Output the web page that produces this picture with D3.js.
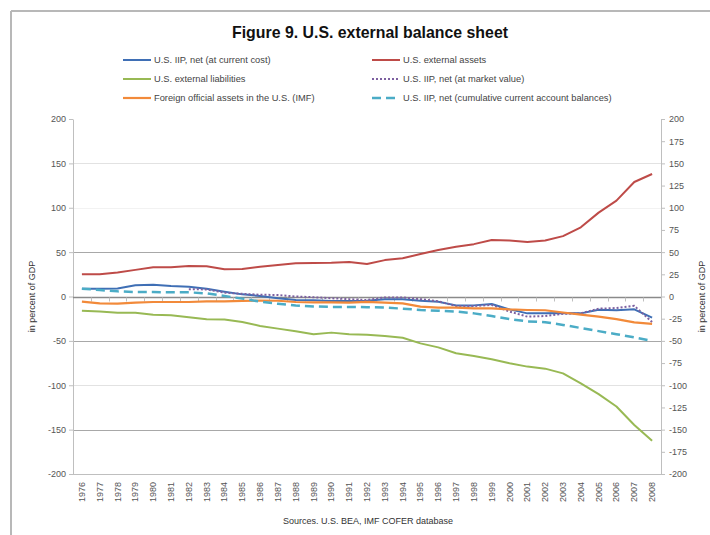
<!DOCTYPE html>
<html><head><meta charset="utf-8">
<script src="https://cdn.jsdelivr.net/npm/d3@7"></script>
<style>
body{margin:0;background:#fff}
svg{display:block}
text{font-family:"Liberation Sans",Arial,sans-serif}
</style>
</head><body>
<svg id="c" width="710" height="535"></svg>
<script>
// ---------- data ----------
const years = ["1976","1977","1978","1979","1980","1981","1982","1983","1984","1985","1986",
  "1987","1988","1989","1990","1991","1992","1993","1994","1995","1996","1997","1998","1999",
  "2000","2001","2002","2003","2004","2005","2006","2007","2008"];

const iipNetCurrentCost = [8.8,8.8,9,12.6,13.3,11.8,11,8.8,5.4,2.4,0.6,-2,-4,-4.3,-5,-5,-4.7,-3.2,
  -3.2,-4.7,-5.8,-10,-10,-8.5,-14.5,-19,-19,-18.5,-19,-15,-15.5,-14.5,-23.8];

const externalAssets = [25,25,27,30,33,33,34.4,34,30.6,31,33.6,35.5,37.4,37.7,38,39,36.6,41,43,
  47.9,52.4,56,59,63.7,63,61.4,63,68,78,94.5,108,129,138];

const externalLiabilities = [-16,-17,-18.2,-18.2,-20.5,-21.2,-23.5,-25.7,-26,-28.7,-33.2,-36.2,
  -39.2,-42.6,-40.7,-42.6,-43.2,-44.5,-46.4,-52.8,-57.3,-64,-67,-70.8,-75.3,-79,-81.3,-86.6,
  -97.8,-110,-124,-144.8,-162.5];

const iipNetMarketValue = [null,null,null,null,null,null,8.1,8,4.3,3,2,1.7,0,-0.8,-2,-3,-4,-1,-1,
  -3,-5.5,-10.7,-10.7,-9.5,-17,-22.7,-22,-19.5,-19,-13.7,-13,-10.5,-28.8];

const foreignOfficialAssets = [-5.8,-7.7,-8,-6.8,-6.2,-6.2,-6.2,-5.5,-5.5,-5,-4.7,-4.8,-6.2,-6.6,
  -6.6,-6.8,-6,-7,-7.7,-11.4,-12.5,-12.5,-13.3,-13.3,-14.5,-15.2,-15.5,-18,-20.5,-22.7,-25.5,
  -29.2,-30.8];

const iipNetCumulativeCA = [8.8,7.3,5.8,5,5,4.7,4.7,3.5,0.6,-2.4,-5.8,-8.2,-10.2,-11.2,-11.8,-11.8,
  -12,-12.5,-13.7,-15.2,-16,-17,-19,-22,-25.5,-28,-29,-32,-35.5,-39,-42.5,-46,-50];

const seriesNames = ["U.S. IIP, net (at current cost)","U.S. external assets",
  "U.S. external liabilities","U.S. IIP, net (at market value)",
  "Foreign official assets in the U.S. (IMF)","U.S. IIP, net (cumulative current account balances)"];

const leftTicks = [-200,-150,-100,-50,0,50,100,150,200];
const rightTicks = [-200,-175,-150,-125,-100,-75,-50,-25,0,25,50,75,100,125,150,175,200];

const titleText = "Figure 9. U.S. external balance sheet";
const axisTitle = "in percent of GDP";
const sourceText = "Sources. U.S. BEA, IMF COFER database";

// ---------- drawing ----------
const svg = d3.select("#c");
const P = {l:73, r:661, t:119, b:474};

const x = d3.scaleBand().domain(years).range([P.l, P.r]).padding(0);
const y = d3.scaleLinear().domain([-200, 200]).range([P.b, P.t]);
const cx = d => x(d) + x.bandwidth()/2;

// outer frame (left and top edges visible)
svg.append("line").attr("x1",11).attr("y1",11).attr("x2",710).attr("y2",11)
  .attr("stroke","#b8b8b8").attr("stroke-width",2);
svg.append("line").attr("x1",11).attr("y1",11).attr("x2",11).attr("y2",535)
  .attr("stroke","#b8b8b8").attr("stroke-width",2);

// title
svg.append("text").attr("x",370).attr("y",38).attr("text-anchor","middle")
  .attr("font-size",17).attr("font-weight","bold").attr("fill","#111")
  .attr("textLength",276).attr("lengthAdjust","spacingAndGlyphs").text(titleText);

// gridlines
const gridColor = {"150":"#e2e2e2","100":"#f2f2f2","50":"#a8a8a8","-50":"#a8a8a8","-100":"#e2e2e2","-150":"#a8a8a8"};
svg.append("g").selectAll("line")
  .data(leftTicks.filter(v => v !== 0 && v !== -200 && v !== 200))
  .join("line")
  .attr("x1",P.l).attr("x2",P.r)
  .attr("y1",d => Math.round(y(d))+0.5).attr("y2",d => Math.round(y(d))+0.5)
  .attr("stroke",d => gridColor[String(d)]).attr("stroke-width",1);

// left axis
const gl = svg.append("g").attr("transform",`translate(${P.l},0)`)
  .call(d3.axisLeft(y).tickValues(leftTicks).tickSize(4).tickSizeOuter(0).tickPadding(3)
    .tickFormat(d => String(d)));
gl.select(".domain").attr("stroke","#bfbfbf");
gl.selectAll(".tick line").attr("stroke","#bfbfbf");
gl.selectAll(".tick text").attr("font-size",9).attr("fill","#555").attr("font-family","Liberation Sans, Arial, sans-serif");

// right axis
const gr = svg.append("g").attr("transform",`translate(${P.r},0)`)
  .call(d3.axisRight(y).tickValues(rightTicks).tickSize(4).tickSizeOuter(0).tickPadding(4)
    .tickFormat(d => String(d)));
gr.select(".domain").attr("stroke","#bfbfbf");
gr.selectAll(".tick line").attr("stroke","#bfbfbf");
gr.selectAll(".tick text").attr("font-size",9).attr("fill","#555").attr("font-family","Liberation Sans, Arial, sans-serif");

// bottom line
svg.append("line").attr("x1",P.l).attr("x2",P.r).attr("y1",P.b+0.5).attr("y2",P.b+0.5)
  .attr("stroke","#bfbfbf");

// year labels
svg.append("g").selectAll("text").data(years).join("text")
  .attr("transform",d => `translate(${cx(d)+3},482) rotate(-90)`)
  .attr("text-anchor","end").attr("font-size",9).attr("fill","#555").text(d => d);

// zero line with category ticks
const y0 = Math.round(y(0)) + 0.5;
svg.append("line").attr("x1",P.l).attr("x2",P.r).attr("y1",y0).attr("y2",y0)
  .attr("stroke","#8a8a8a").attr("stroke-width",1.5);
svg.append("g").selectAll("line").data(years.slice(1)).join("line")
  .attr("x1",d => Math.round(x(d))+0.5).attr("x2",d => Math.round(x(d))+0.5)
  .attr("y1",y0).attr("y2",y0+4).attr("stroke","#bfbfbf");

// axis titles
svg.append("text").attr("transform",`translate(35,${y(0)}) rotate(-90)`)
  .attr("text-anchor","middle").attr("font-size",9).attr("fill","#333").text(axisTitle);
svg.append("text").attr("transform",`translate(705,${y(0)}) rotate(-90)`)
  .attr("text-anchor","middle").attr("font-size",9).attr("fill","#333").text(axisTitle);

// source note
svg.append("text").attr("x",368).attr("y",524).attr("text-anchor","middle")
  .attr("font-size",9).attr("fill","#333").text(sourceText);

// series
const series = [
  {name:seriesNames[0], values:iipNetCurrentCost, color:"#3f6fb5", dash:null, w:2},
  {name:seriesNames[1], values:externalAssets, color:"#be4b48", dash:null, w:2},
  {name:seriesNames[2], values:externalLiabilities, color:"#98b954", dash:null, w:2},
  {name:seriesNames[3], values:iipNetMarketValue, color:"#7d60a0", dash:"2,2", w:2},
  {name:seriesNames[4], values:foreignOfficialAssets, color:"#f28a3a", dash:null, w:2.2},
  {name:seriesNames[5], values:iipNetCumulativeCA, color:"#4bacc6", dash:"9,5", w:2.5}
];

const line = d3.line()
  .defined(d => d != null)
  .x((d,i) => cx(years[i]))
  .y(d => y(d));

svg.append("g").selectAll("path").data(series).join("path")
  .attr("d",s => line(s.values))
  .attr("fill","none")
  .attr("stroke",s => s.color)
  .attr("stroke-width",s => s.w)
  .attr("stroke-dasharray",s => s.dash)
  .attr("stroke-linejoin","round");

// legend
const legCols = [123, 372], legRows = [60, 79, 98];
const lg = svg.append("g").selectAll("g").data(series).join("g")
  .attr("transform",(s,i) => `translate(${legCols[i%2]},${legRows[Math.floor(i/2)]})`);
lg.append("line").attr("x1",0).attr("x2",28).attr("y1",0).attr("y2",0)
  .attr("stroke",s => s.color).attr("stroke-width",s => s.w)
  .attr("stroke-dasharray",s => s.dash);
lg.append("text").attr("x",31).attr("y",3).attr("font-size",9.3).attr("fill","#444")
  .text(s => s.name);
</script>
</body></html>
